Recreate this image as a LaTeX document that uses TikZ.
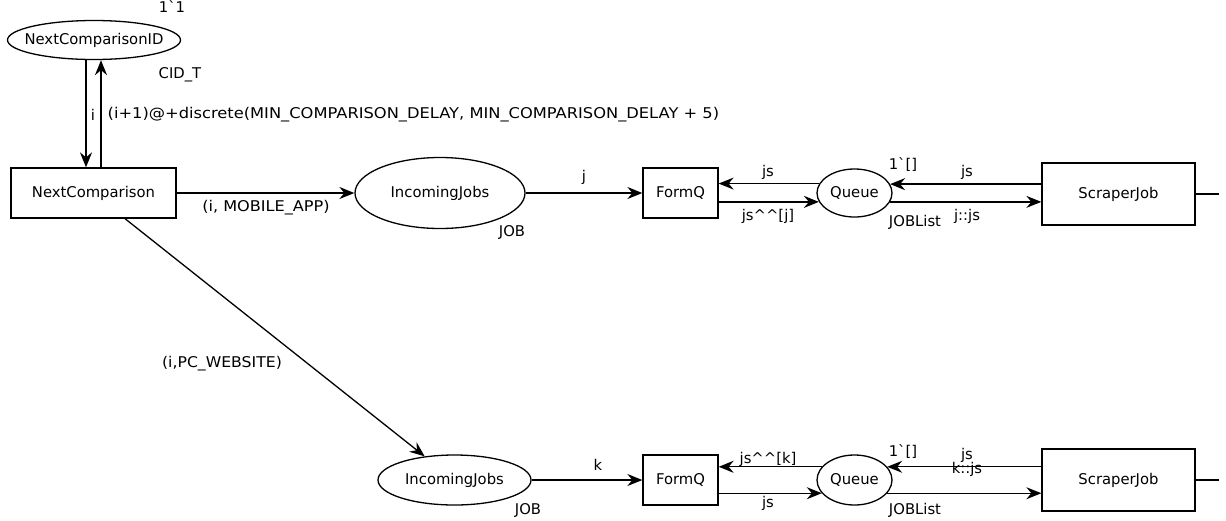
\documentclass[tikz,border=0pt]{standalone}
\usepackage{fontspec}
\setmainfont{DejaVu Sans}[Ligatures=TeXOff]
\usetikzlibrary{arrows.meta,shapes.geometric}
\newcommand\bq{\symbol{96}}
\newcommand\caret{\textasciicircum}
\newcommand\wide[2]{\scalebox{#1}[1]{#2}}
\begin{document}
\begin{tikzpicture}[x=1pt,y=-1pt,line width=1.3pt,
  every node/.style={font=\fontsize{14.8}{17}\selectfont,inner sep=0pt},
  every label/.style={font=\fontsize{14.8}{17}\selectfont,inner sep=0pt},
  place/.style={draw,ellipse},
  trans/.style={draw,rectangle},
  arc/.style={-{Stealth[length=15pt,width=12pt,inset=5pt]}}]
\useasboundingbox (0,0) rectangle (1226,520);
% nodes
\node[place,minimum width=173,minimum height=39,label={center:NextComparisonID}] (ncid) at (94,40) {};
\node[trans,minimum width=165,minimum height=50] (nc) at (93.5,193) {NextComparison};
\node[place,minimum width=170,minimum height=71,label={center:IncomingJobs}] (ij1) at (440,193) {};
\node[trans,minimum width=75,minimum height=50] (fq1) at (680.5,193) {FormQ};
\node[place,minimum width=75,minimum height=48,label={center:Queue}] (q1) at (854.5,193) {};
\node[trans,minimum width=153,minimum height=62] (sj1) at (1118.5,194) {ScraperJob};
\node[place,minimum width=153,minimum height=50,label={center:IncomingJobs}] (ij2) at (454.5,480) {};
\node[trans,minimum width=75,minimum height=50] (fq2) at (680.5,480) {FormQ};
\node[place,minimum width=75,minimum height=50,label={center:Queue}] (q2) at (854.5,480) {};
\node[trans,minimum width=153,minimum height=62] (sj2) at (1118.5,480) {ScraperJob};
\coordinate (ncs) at ([xshift=31.5]nc.south);
\coordinate (e1) at (1219,194);
\coordinate (e2) at (1219,480);
% arcs
\draw[arc] ([xshift=-8]ncid.south) -- ([xshift=-8]ncid.south |- nc.north);
\draw[arc] ([xshift=7]ncid.south |- nc.north) -- ([xshift=7]ncid.south);
\draw[arc] (nc.east) -- (ij1.west);
\draw[arc] (ij1.east) -- (fq1.west);
\draw[arc] (q1.165.5) -- (q1.165.5 -| fq1.east);
\draw[arc] (q1.194.5 -| fq1.east) -- (q1.194.5);
\draw[arc] (q1.14.5 -| sj1.west) -- (q1.14.5);
\draw[arc] (q1.-14.5) -- (q1.-14.5 -| sj1.west);
\draw (sj1.east) -- (e1);
\draw[arc] (ncs) -- (ij2);
\draw[arc] (ij2.east) -- (fq2.west);
\draw[arc] (q2.158) -- (q2.158 -| fq2.east) ;
\draw[arc] (q2.202 -| fq2.east) -- (q2.202);
\draw[arc] (q2.22 -| sj2.west) -- (q2.22);
\draw[arc] (q2.-22) -- (q2.-22 -| sj2.west);
\draw (sj2.east) -- (e2);
% labels
\node (t1) at (172,7) {1\bq1};
\node (t2) at (180,75) {CID\_T};
\node (t3) at (93,115) {i};
\node[anchor=west] (t4) at (107,115) {\wide{1.1}{(i+1)@+discrete(MIN\_COMPARISON\_DELAY, MIN\_COMPARISON\_DELAY + 5)}};
\node (t5) at (266,208) {\wide{1.09}{(i, MOBILE\_APP)}};
\node (t6) at (512,232) {JOB};
\node (t7) at (584,177) {j};
\node (t8) at (768,172) {js};
\node (t9) at (768,216) {js\caret\caret[j]};
\node (t10) at (903,165) {1\bq[]};
\node (t11) at (967,172) {js};
\node (t12) at (967,216) {j::js};
\node (t13) at (915,222) {JOBList};
\node (t14) at (222,364) {\wide{1.06}{(i,PC\_WEBSITE)}};
\node (t15) at (528,510) {JOB};
\node (t16) at (598,465) {k};
\node (t17) at (768,459) {js\caret\caret[k]};
\node (t18) at (768,503) {js};
\node (t19) at (903,452) {1\bq[]};
\node (t20) at (967,455) {js};
\node (t21) at (967,469) {k::js};
\node (t22) at (915,510) {JOBList};
\end{tikzpicture}
\end{document}
